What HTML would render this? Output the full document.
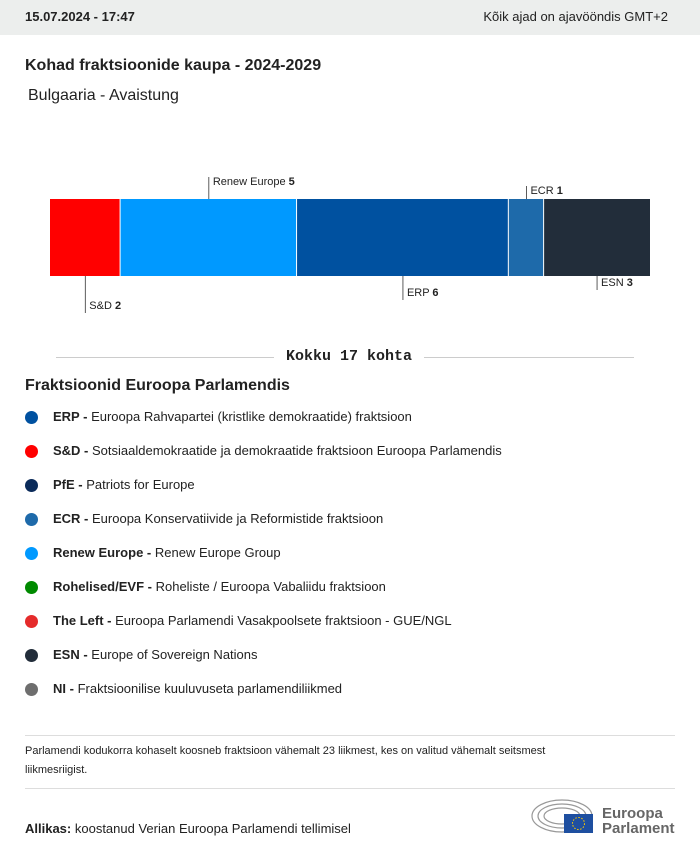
<!DOCTYPE html>
<html><head><meta charset="utf-8"><style>
body{margin:0;width:700px;height:853px;background:#fff;font-family:"Liberation Sans",sans-serif;color:#222;position:relative;overflow:hidden}
.hdr{position:absolute;left:0;top:0;width:700px;height:35px;background:#eceeed}
.abs{position:absolute;white-space:nowrap}
.leg{position:absolute;left:25px;font-size:13px;white-space:nowrap}
.leg .dot{position:absolute;left:0;top:2px;width:13px;height:13px;border-radius:50%}
.leg span.t{position:absolute;left:28px;top:0}
</style></head><body>
<div class="hdr"></div>
<div class="abs" style="left:25px;top:9px;font-size:13px;font-weight:bold">15.07.2024 - 17:47</div>
<div class="abs" style="right:32px;top:9px;font-size:13px">Kõik ajad on ajavööndis GMT+2</div>
<div class="abs" style="left:25px;top:57px;font-size:16px;font-weight:bold">Kohad fraktsioonide kaupa - 2024-2029</div>
<div class="abs" style="left:28px;top:87px;font-size:16px">Bulgaaria - Avaistung</div>
<svg id="chart" width="700" height="330" style="position:absolute;left:0;top:0"></svg>
<div class="abs" style="left:56px;top:357px;width:578px;border-top:1px solid #ccc"></div>
<div class="abs" style="left:274px;top:348px;padding:0 12px;background:#fff;font-family:'Liberation Mono',monospace;font-weight:bold;font-size:15px">Kokku 17 kohta</div>
<div class="abs" style="left:25px;top:377px;font-size:16px;font-weight:bold">Fraktsioonid Euroopa Parlamendis</div>
<div id="legend"></div>
<div class="abs" style="left:25px;top:735px;width:650px;border-top:1px solid #ddd"></div>
<div class="abs" style="left:25px;top:742px;font-size:11px;line-height:19px;white-space:normal;width:570px">Parlamendi kodukorra kohaselt koosneb fraktsioon vähemalt 23 liikmest, kes on valitud vähemalt seitsmest liikmesriigist.</div>
<div class="abs" style="left:25px;top:788px;width:650px;border-top:1px solid #ddd"></div>
<div class="abs" style="left:25px;top:821px;font-size:13px"><b>Allikas:</b> koostanud Verian Euroopa Parlamendi tellimisel</div>
<svg class="abs" style="left:530px;top:798px" width="150" height="40">
<g fill="none" stroke="#999" stroke-width="1.2"><ellipse cx="32" cy="18" rx="30" ry="16"/><ellipse cx="32" cy="18" rx="24" ry="12"/><ellipse cx="32" cy="18" rx="18" ry="8"/></g>
<rect x="34" y="16" width="29" height="19" fill="#1e4fa0"/><circle cx="48.5" cy="25.5" r="6" fill="none" stroke="#fc0" stroke-dasharray="1.5 1.6"/>
<text x="72" y="20" font-size="15" font-weight="bold" fill="#666" font-family="Liberation Sans">Euroopa</text>
<text x="72" y="35" font-size="15" font-weight="bold" fill="#666" font-family="Liberation Sans">Parlament</text>
</svg>
<script>
const groups=["S&D","Renew Europe","ERP","ECR","ESN"];
const seats=[2,5,6,1,3];
const colors=["#ff0000","#0099ff","#0051a0","#1e6aaa","#222d3a"];
const labelAbove=[false,true,false,true,false];
const labelLen=[37,22,24,13,14];
const svg=document.getElementById('chart');const NS="http://www.w3.org/2000/svg";
const total=seats.reduce((a,b)=>a+b,0);
const x0=50,x1=650,yTop=199,yBot=276;
const sx=v=>x0+v/total*(x1-x0);
let cum=0;
groups.forEach((g,i)=>{
 const a=sx(cum),b=sx(cum+seats[i]);cum+=seats[i];
 const r=document.createElementNS(NS,'rect');
 r.setAttribute('x',a);r.setAttribute('y',yTop);r.setAttribute('width',b-a-(i<groups.length-1?1:0));r.setAttribute('height',yBot-yTop);r.setAttribute('fill',colors[i]);
 
 
 svg.appendChild(r);
 const lx=a+(b-a)/2,up=labelAbove[i],L=labelLen[i];
 const ln=document.createElementNS(NS,'line');
 ln.setAttribute('x1',lx);ln.setAttribute('x2',lx);
 ln.setAttribute('y1',up?yTop-L:yBot);ln.setAttribute('y2',up?yTop:yBot+L);
 ln.setAttribute('stroke','#333');ln.setAttribute('stroke-width','0.8');
 
 
 svg.appendChild(ln);
 const t=document.createElementNS(NS,'text');
 t.setAttribute('x',lx+4);t.setAttribute('y',up?yTop-L+8:yBot+L-4);
 t.setAttribute('font-size','11');t.setAttribute('fill','#222');t.setAttribute('font-family','Liberation Sans');
 t.textContent=g+' ';const bs=document.createElementNS(NS,'tspan');bs.setAttribute('font-weight','bold');bs.textContent=seats[i];t.appendChild(bs);
 
 
 svg.appendChild(t);
});
const legAbbr=["ERP","S&D","PfE","ECR","Renew Europe","Rohelised/EVF","The Left","ESN","NI"];
const legName=["Euroopa Rahvapartei (kristlike demokraatide) fraktsioon","Sotsiaaldemokraatide ja demokraatide fraktsioon Euroopa Parlamendis","Patriots for Europe","Euroopa Konservatiivide ja Reformistide fraktsioon","Renew Europe Group","Roheliste / Euroopa Vabaliidu fraktsioon","Euroopa Parlamendi Vasakpoolsete fraktsioon - GUE/NGL","Europe of Sovereign Nations","Fraktsioonilise kuuluvuseta parlamendiliikmed"];
const legCol=["#0051a0","#ff0000","#0b2b5a","#1e6aaa","#0099ff","#008a00","#e52b2b","#222d3a","#6e6e6e"];
const lg=document.getElementById('legend');
legAbbr.forEach((a,i)=>{
 const d=document.createElement('div');d.className='leg';d.style.top=(409+i*34)+'px';
 d.innerHTML='<div class="dot" style="background:'+legCol[i]+'"></div><span class="t"><b></b> </span>';
 d.querySelector('b').textContent=a+' -';d.querySelector('.t').append(legName[i]);
 
 
 lg.appendChild(d);
});
</script>
</body></html>
